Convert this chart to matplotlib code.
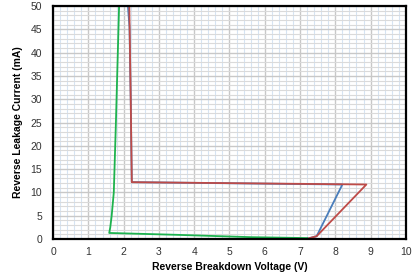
import numpy as np
import matplotlib.pyplot as plt
from matplotlib.ticker import MultipleLocator

plt.rcParams['font.family'] = ['Liberation Sans', 'DejaVu Sans']

# curve points (V, mA)
blue_v = [2.12, 2.165, 2.20, 2.23, 8.20, 7.47, 7.22]
blue_i = [50.0, 45.5, 30.0, 12.2, 11.7, 0.6, 0.1]

red_v = [2.16, 2.20, 2.23, 8.88, 7.47, 7.22]
red_i = [50.0, 30.0, 12.2, 11.7, 0.6, 0.1]

green_v = [1.87, 1.78, 1.72, 1.66, 1.62, 1.59, 3.5, 5.6, 7.2]
green_i = [50.0, 25.0, 10.0, 5.0, 2.5, 1.3, 0.9, 0.4, 0.2]

xticks = list(range(0, 11))
yticks = list(range(0, 51, 5))

fig = plt.figure(figsize=(4.15, 2.76), dpi=100)
ax = fig.add_axes([0.128, 0.134, 0.850, 0.844])

ax.set_xlim(0, 10)
ax.set_ylim(0, 50)
ax.set_xticks(xticks)
ax.set_yticks(yticks)
ax.xaxis.set_minor_locator(MultipleLocator(0.2))
ax.yaxis.set_minor_locator(MultipleLocator(1))

ax.grid(which='minor', axis='x', color='#d6e4f3', lw=0.8)
ax.grid(which='minor', axis='y', color='#dadada', lw=0.8)
ax.grid(which='major', color='#c8c8c8', lw=1.0)
ax.set_axisbelow(True)

ax.plot(blue_v, blue_i, color='#4a7ebb', lw=1.3)
ax.plot(red_v, red_i, color='#be4b48', lw=1.3)
ax.plot(green_v, green_i, color='#1db34f', lw=1.3)

for s in ax.spines.values():
    s.set_linewidth(1.6)
    s.set_color('black')

ax.tick_params(which='both', length=0, labelsize=7.5, colors='#333333')
ax.tick_params(axis='x', pad=6)
ax.tick_params(axis='y', pad=8)

ax.set_xlabel('Reverse Breakdown Voltage (V)', fontsize=7.5, fontweight='bold', labelpad=3)
ax.set_ylabel('Reverse Leakage Current (mA)', fontsize=7.5, fontweight='bold', labelpad=5)

fig.savefig('out.png', dpi=100)
